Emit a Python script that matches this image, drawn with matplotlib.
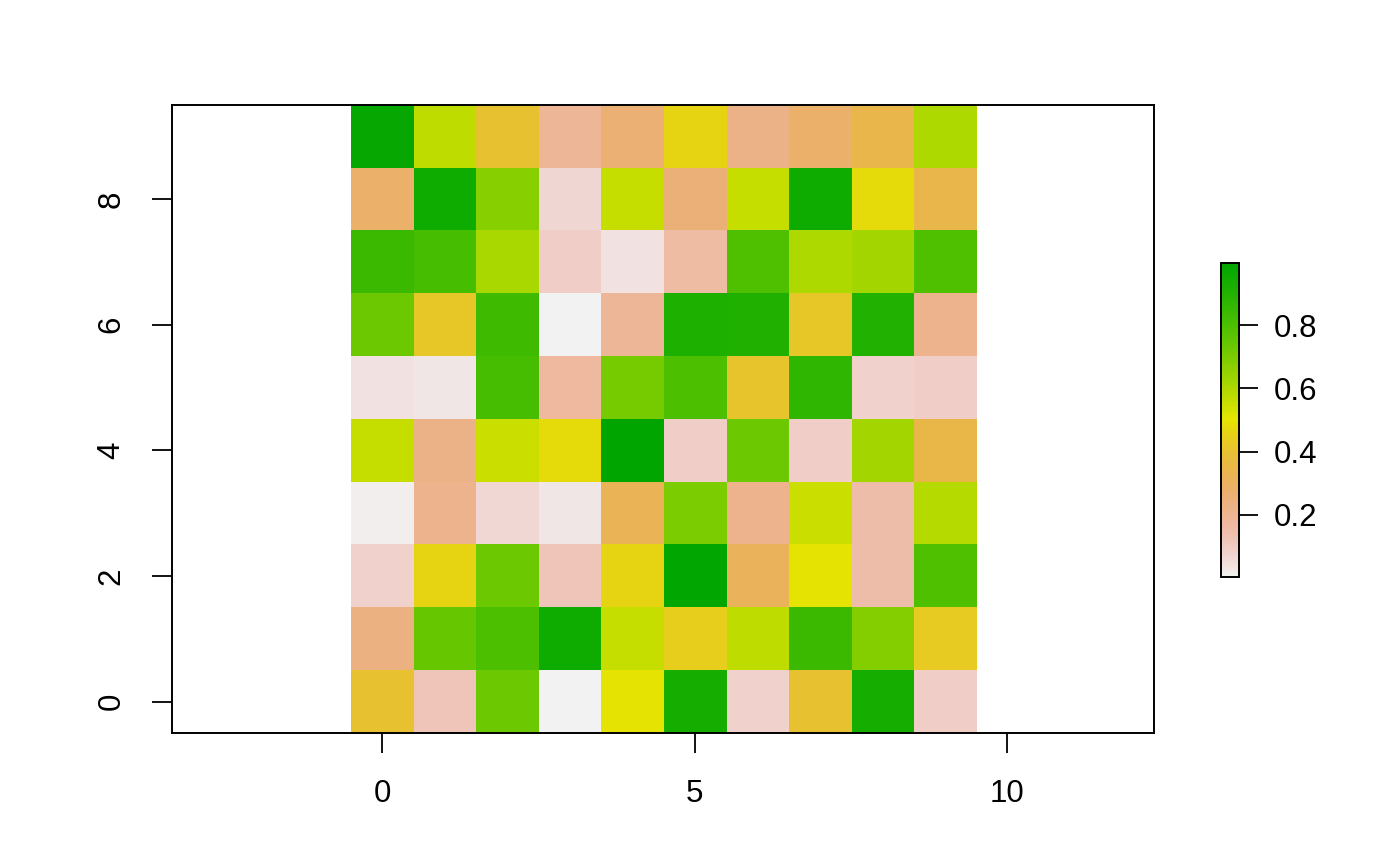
import colorsys
import numpy as np
import matplotlib
matplotlib.use("Agg")
import matplotlib.pyplot as plt
from matplotlib.colors import ListedColormap, Normalize

plt.rcParams['font.family'] = ['Liberation Sans', 'DejaVu Sans']

# Grid values, rows listed from top (y=9) to bottom (y=0), columns x=0..9
row9 = [0.98, 0.57, 0.40, 0.19, 0.26, 0.46, 0.22, 0.28, 0.34, 0.60]
row8 = [0.28, 0.95, 0.67, 0.07, 0.56, 0.25, 0.56, 0.95, 0.48, 0.34]
row7 = [0.84, 0.81, 0.61, 0.09, 0.04, 0.16, 0.79, 0.60, 0.62, 0.79]
row6 = [0.73, 0.42, 0.83, 0.004, 0.19, 0.91, 0.905, 0.42, 0.90, 0.21]
row5 = [0.04, 0.03, 0.81, 0.17, 0.71, 0.80, 0.41, 0.865, 0.08, 0.09]
row4 = [0.56, 0.22, 0.55, 0.48, 0.996, 0.09, 0.73, 0.09, 0.62, 0.35]
row3 = [0.015, 0.21, 0.065, 0.03, 0.32, 0.70, 0.21, 0.55, 0.15, 0.59]
row2 = [0.08, 0.46, 0.73, 0.12, 0.46, 0.99, 0.31, 0.50, 0.15, 0.79]
row1 = [0.23, 0.74, 0.80, 0.95, 0.56, 0.44, 0.57, 0.84, 0.68, 0.43]
row0 = [0.40, 0.12, 0.73, 0.004, 0.50, 0.935, 0.08, 0.40, 0.935, 0.09]

x_ticks = [0, 5, 10]
y_ticks = [0, 2, 4, 6, 8]
cbar_ticks = [0.2, 0.4, 0.6, 0.8]

grid = np.array([row9, row8, row7, row6, row5, row4, row3, row2, row1, row0])


def r_terrain_colors(n):
    k = n // 2
    cols = []
    hs = np.linspace(4 / 12, 2 / 12, k)
    ss = np.linspace(1, 1, k)
    vs = np.linspace(0.65, 0.9, k)
    for h, s, v in zip(hs, ss, vs):
        cols.append(colorsys.hsv_to_rgb(h, s, v))
    m = n - k + 1
    hs = np.linspace(2 / 12, 0, m)[1:]
    ss = np.linspace(1, 0, m)[1:]
    vs = np.linspace(0.9, 0.95, m)[1:]
    for h, s, v in zip(hs, ss, vs):
        cols.append(colorsys.hsv_to_rgb(h, s, v))
    return cols


cmap = ListedColormap(r_terrain_colors(255)[::-1])
vmin, vmax = grid.min(), grid.max()
norm = Normalize(vmin=vmin, vmax=vmax)

fig = plt.figure(figsize=(14, 8.66), dpi=100)
ax = fig.add_axes([172 / 1400, 1 - 733 / 866, (1154 - 172) / 1400, (733 - 105) / 866])
im = ax.imshow(grid, cmap=cmap, norm=norm, extent=(-0.5, 9.5, -0.5, 9.5),
               origin='upper', aspect='auto', interpolation='nearest')
ax.set_xlim(-3.36, 12.35)
ax.set_ylim(-0.5, 9.5)
ax.set_xticks(x_ticks)
ax.set_yticks(y_ticks)
ax.set_xticklabels([str(t) for t in x_ticks])
ax.set_yticklabels([str(t) for t in y_ticks], rotation=90, va='center')
ax.tick_params(axis='both', length=14.4, width=1.3, labelsize=22.5, pad=18.5, color='black')
for sp in ax.spines.values():
    sp.set_linewidth(1.4)

cax = fig.add_axes([1221 / 1400, 1 - 577 / 866, 18 / 1400, (577 - 263) / 866])
cb = fig.colorbar(im, cax=cax)
cb.set_ticks(cbar_ticks)
cb.set_ticklabels([f"{t:.1f}" for t in cbar_ticks])
cb.ax.tick_params(length=13.7, width=1.3, labelsize=22.5, pad=11.5)
cb.outline.set_linewidth(1.4)

fig.savefig("out.png", dpi=100)
